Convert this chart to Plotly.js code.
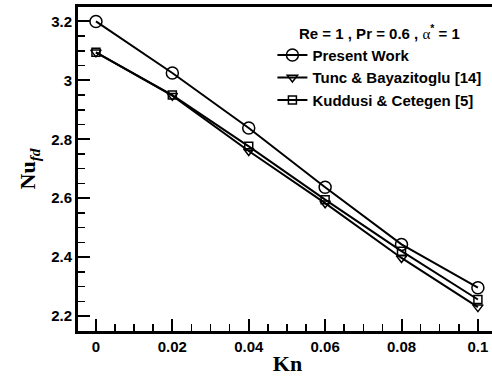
<!DOCTYPE html>
<html>
<head>
<meta charset="utf-8">
<script src="https://cdn.plot.ly/plotly-3.0.1.min.js"></script>
<style>
html,body{margin:0;padding:0;overflow:hidden;background:#fff;width:492px;height:376px;}
#chart{width:500px;height:376px;}
</style>
</head>
<body>
<div id="chart"></div>
<script>
const kn = [0, 0.02, 0.04, 0.06, 0.08, 0.1];
const presentWork = [3.2, 3.025, 2.838, 2.637, 2.443, 2.296];
const tuncBayazitoglu = [3.095, 2.948, 2.760, 2.583, 2.397, 2.230];
const kuddusiCetegen = [3.095, 2.950, 2.776, 2.595, 2.420, 2.256];
const seriesNames = ['Present Work', 'Tunc &amp; Bayazitoglu [14]', 'Kuddusi &amp; Cetegen [5]'];

const common = {type: 'scatter', mode: 'lines+markers', x: kn, line: {color: '#000', width: 2}};
const traces = [
  Object.assign({}, common, {y: presentWork, name: seriesNames[0],
    marker: {symbol: 'circle-open', size: 12, color: '#000', line: {width: 1.5}}}),
  Object.assign({}, common, {y: tuncBayazitoglu, name: seriesNames[1],
    marker: {symbol: 'triangle-down-open', size: 9, color: '#000', line: {width: 1.5}}}),
  Object.assign({}, common, {y: kuddusiCetegen, name: seriesNames[2],
    marker: {symbol: 'square-open', size: 8, color: '#000', line: {width: 1.5}}})
];

const tickFont = {family: 'Liberation Sans, Arial, sans-serif', size: 15, color: '#000', weight: 'bold'};
const layout = {
  width: 500, height: 376,
  margin: {l: 78, r: 3, t: 7, b: 45},
  paper_bgcolor: '#fff', plot_bgcolor: '#fff',
  showlegend: true,
  legend: {
    x: 0.464, y: 0.962, xanchor: 'left', yanchor: 'top',
    bgcolor: 'rgba(0,0,0,0)', borderwidth: 0,
    font: {family: 'Liberation Sans, Arial, sans-serif', size: 15, color: '#000', weight: 'bold'},
    title: {text: 'Re = 1 , Pr = 0.6 , <span style="font-family:Liberation Serif;font-weight:normal">α</span><sup>*</sup> = 1', side: 'top center',
      font: {family: 'Liberation Sans, Arial, sans-serif', size: 15, color: '#000', weight: 'bold'}},
    itemwidth: 30, tracegroupgap: 0
  },
  xaxis: {
    range: [-0.0047, 0.105], tick0: 0, dtick: 0.02,
    ticks: 'inside', ticklen: 12, tickwidth: 2, tickcolor: '#000',
    minor: {dtick: 0.005, ticks: 'inside', ticklen: 7, tickwidth: 1.5, tickcolor: '#000', showgrid: false},
    showgrid: false, zeroline: false,
    showline: true, linewidth: 3, linecolor: '#000', mirror: true,
    tickfont: tickFont,
    title: {text: 'Kn', standoff: 3, font: {family: 'Liberation Serif, Times New Roman, serif', size: 22, color: '#000', weight: 'bold'}}
  },
  yaxis: {
    range: [2.149, 3.249], tick0: 2.2, dtick: 0.2,
    ticks: 'inside', ticklen: 12, tickwidth: 2, tickcolor: '#000',
    minor: {dtick: 0.05, ticks: 'inside', ticklen: 7, tickwidth: 1.5, tickcolor: '#000', showgrid: false},
    showgrid: false, zeroline: false,
    showline: true, linewidth: 3, linecolor: '#000', mirror: true,
    tickfont: tickFont,
    title: {text: 'Nu<sub><i>fd</i></sub>', standoff: 10, font: {family: 'Liberation Serif, Times New Roman, serif', size: 22, color: '#000', weight: 'bold'}}
  }
};

Plotly.newPlot('chart', traces, layout, {displayModeBar: false, staticPlot: true});
</script>
</body>
</html>
